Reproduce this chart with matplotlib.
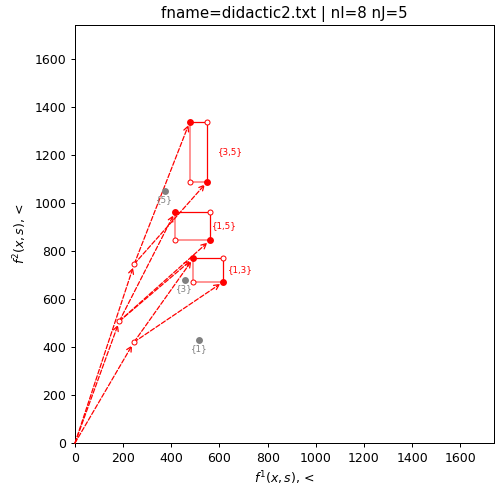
import matplotlib
matplotlib.use('Agg')
import matplotlib.pyplot as plt

# single-item points (hollow) reached from the origin
single_names = ['A', 'B', 'C']
single_x = [246, 184, 245]
single_y = [745, 507, 420]

# pair rectangles: filled corners (top-left, bottom-right)
pair_labels = ['{3,5}', '{1,5}', '{1,3}']
tl_x = [477, 416, 492]
tl_y = [1338, 962, 769]
br_x = [550, 561, 616]
br_y = [1088, 844, 671]
label_x = [594, 569, 636]

# arrows from single points to pair corners: (single index, pair index, corner)
arrows = [(0, 0, 'tl'), (0, 0, 'br'),
          (1, 1, 'tl'), (1, 1, 'br'), (1, 2, 'tl'),
          (2, 2, 'tl'), (2, 2, 'br')]

# grey singleton points
grey_labels = ['{1}', '{3}', '{5}']
grey_x = [517, 456, 373]
grey_y = [429, 678, 1048]

lim = 1740

fig = plt.figure(figsize=(5.5, 5.456), dpi=90)
ax = fig.add_axes([75/495, 48/491, 419/495, 418/491])

arrow_props = dict(arrowstyle='->', color='red', linestyle='--', lw=1,
                   shrinkA=0, shrinkB=3)

for i in range(len(single_x)):
    ax.annotate('', xy=(single_x[i], single_y[i]), xytext=(0, 0), arrowprops=arrow_props)

for s, p, corner in arrows:
    if corner == 'tl':
        end = (tl_x[p], tl_y[p])
    else:
        end = (br_x[p], br_y[p])
    ax.annotate('', xy=end, xytext=(single_x[s], single_y[s]), arrowprops=arrow_props)

for p in range(len(pair_labels)):
    ax.plot([tl_x[p], br_x[p], br_x[p]], [tl_y[p], tl_y[p], br_y[p]], color='red', lw=1, zorder=3)
    ax.plot([tl_x[p], tl_x[p], br_x[p]], [tl_y[p], br_y[p], br_y[p]], color='red', lw=1.2, alpha=0.55, zorder=3)
    # hollow corners
    ax.plot([br_x[p], tl_x[p]], [tl_y[p], br_y[p]], 'o', ms=4, mfc='white', mec='red', mew=0.8, ls='none', zorder=4)
    # filled corners
    ax.plot([tl_x[p], br_x[p]], [tl_y[p], br_y[p]], 'o', ms=4.5, color='red', ls='none', zorder=5)
    ax.text(label_x[p], (tl_y[p] + br_y[p]) / 2, pair_labels[p], color='red', fontsize=7,
            ha='left', va='center')

ax.plot(single_x, single_y, 'o', ms=4, mfc='white', mec='red', mew=0.8, ls='none', zorder=5)

ax.plot(grey_x, grey_y, 'o', ms=4.5, color='gray', ls='none', zorder=5)
for i in range(len(grey_labels)):
    ax.annotate(grey_labels[i], (grey_x[i], grey_y[i]), xytext=(0, -3), textcoords='offset points',
                ha='center', va='top', fontsize=7, color='gray')

ax.set_xlim(0, lim)
ax.set_ylim(0, lim)
ax.set_xticks(range(0, 1601, 200))
ax.set_yticks(range(0, 1601, 200))
ax.set_xlabel(r'$f^1(x, s)$, <')
ax.set_ylabel(r'$f^2(x, s)$, <')
ax.set_title('fname=didactic2.txt | nI=8 nJ=5')

fig.savefig('out.png', dpi=90)
